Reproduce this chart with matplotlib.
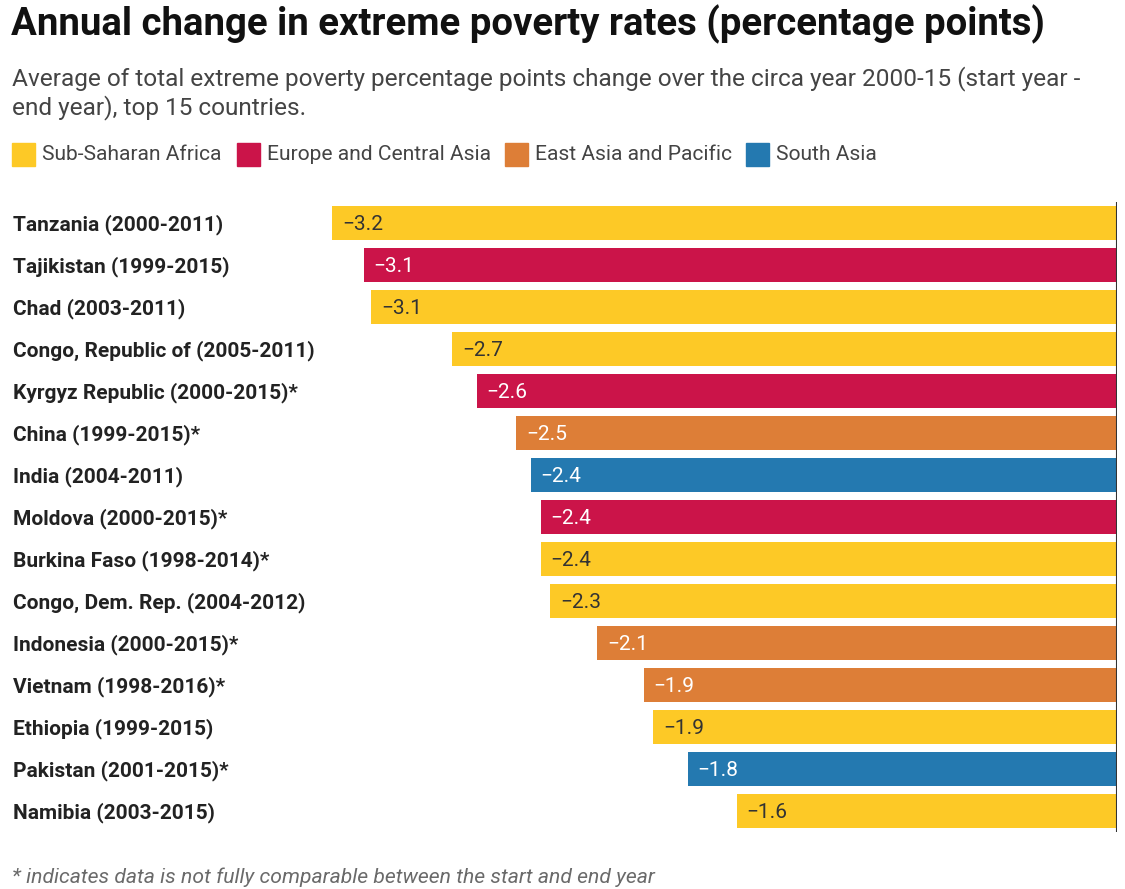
import matplotlib.pyplot as plt
from matplotlib.patches import Rectangle
from matplotlib.transforms import blended_transform_factory

plt.rcParams['font.family'] = ['Roboto', 'DejaVu Sans']

# === data ===
countries = [
    "Tanzania (2000-2011)", "Tajikistan (1999-2015)", "Chad (2003-2011)",
    "Congo, Republic of (2005-2011)", "Kyrgyz Republic (2000-2015)*",
    "China (1999-2015)*", "India (2004-2011)", "Moldova (2000-2015)*",
    "Burkina Faso (1998-2014)*", "Congo, Dem. Rep. (2004-2012)",
    "Indonesia (2000-2015)*", "Vietnam (1998-2016)*", "Ethiopia (1999-2015)",
    "Pakistan (2001-2015)*", "Namibia (2003-2015)",
]
change = [-3.20, -3.07, -3.04, -2.71, -2.61, -2.45, -2.39, -2.35,
          -2.35, -2.31, -2.12, -1.93, -1.89, -1.75, -1.55]
labels = ["−3.2", "−3.1", "−3.1", "−2.7", "−2.6", "−2.5", "−2.4", "−2.4",
          "−2.4", "−2.3", "−2.1", "−1.9", "−1.9", "−1.8", "−1.6"]
region = ["SSA", "ECA", "SSA", "SSA", "ECA", "EAP", "SA", "ECA",
          "SSA", "SSA", "EAP", "EAP", "SSA", "SA", "SSA"]

region_names = {"SSA": "Sub-Saharan Africa", "ECA": "Europe and Central Asia",
                "EAP": "East Asia and Pacific", "SA": "South Asia"}
colores = {"SSA": "#FDC926", "ECA": "#CB1449", "EAP": "#DD7E37", "SA": "#2479B0"}
texto_color = {"SSA": "#333333", "ECA": "white", "EAP": "white", "SA": "white"}

W, H = 1125, 889
fig = plt.figure(figsize=(W / 100, H / 100), dpi=100)

def fx(px):
    return px / W

def fy(py):
    return 1 - py / H

# axes: zero line at px 1117, rows from 202 to 832
ax_left, ax_right, ax_top, ax_bot = 200, 1117, 202, 832
ax = fig.add_axes([fx(ax_left), fy(ax_bot), fx(ax_right - ax_left), (ax_bot - ax_top) / H])
scale = 245.3  # px per unit
ax.set_xlim(-(ax_right - ax_left) / scale, 0)
ax.set_ylim(len(countries) - 0.5, -0.5)

y = list(range(len(countries)))
ax.barh(y, change, height=0.82, color=[colores[r] for r in region])
ax.axvline(0, color="#333333", linewidth=1.5)

for i, (v, lab, r) in enumerate(zip(change, labels, region)):
    ax.text(v + 0.04, i + 0.03, lab, ha="left", va="center", fontsize=15,
            color=texto_color[r])

ax.set_xticks([])
ax.set_yticks([])
for s in ax.spines.values():
    s.set_visible(False)

# nombres de paises en el margen izquierdo
trans = blended_transform_factory(fig.transFigure, ax.transData)
for i, c in enumerate(countries):
    ax.text(fx(13), i + 0.04, c, transform=trans, ha="left", va="center",
            fontsize=15, fontweight="bold", color="#222222")

# titulo / subtitulo
fig.text(fx(11), fy(24), "Annual change in extreme poverty rates (percentage points)",
         fontsize=27.6, fontweight="bold", color="#111111", va="center", ha="left")
fig.text(fx(12), fy(93),
         "Average of total extreme poverty percentage points change over the circa year 2000-15 (start year -\nend year), top 15 countries.",
         fontsize=17.6, color="#444444", va="center", ha="left", linespacing=1.25)

# leyenda
leg_x = [12, 237, 505, 746]
for xx, key in zip(leg_x, ["SSA", "ECA", "EAP", "SA"]):
    fig.add_artist(Rectangle((fx(xx), fy(166)), fx(23), 23 / H,
                             transform=fig.transFigure, color=colores[key]))
    fig.text(fx(xx + 30), fy(154), region_names[key], fontsize=15.1,
             color="#444444", va="center", ha="left")

# nota al pie
fig.text(fx(12), fy(877), "* indicates data is not fully comparable between the start and end year",
         fontsize=15.2, style="italic", color="#6a6a6a", va="center", ha="left")

fig.savefig("out.png", dpi=100)
